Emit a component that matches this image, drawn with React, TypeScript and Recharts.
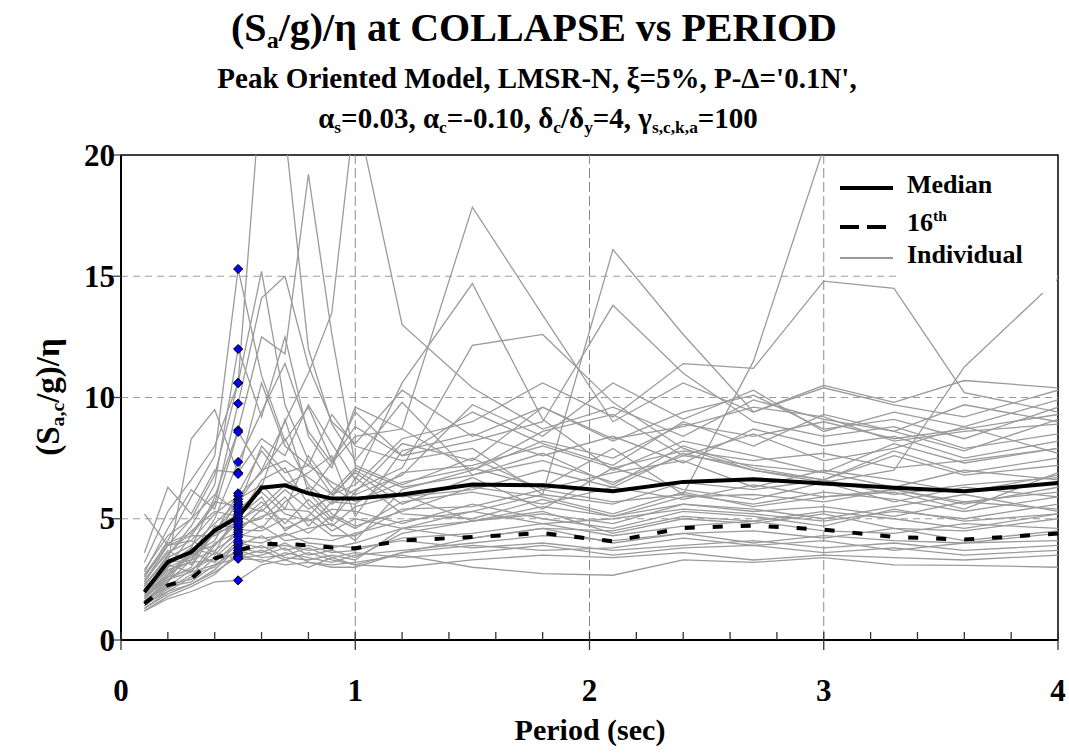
import React from "react"
import { ComposedChart, Legend, Line, ReferenceArea, ReferenceLine, Scatter, XAxis, YAxis } from "recharts"

const FONT = '"Liberation Serif", "Times New Roman", Times, serif'

const PERIODS = [0.1, 0.2, 0.3, 0.4, 0.5, 0.6, 0.7, 0.8, 0.9, 1.0, 1.2, 1.5, 1.8, 2.1, 2.4, 2.7, 3.0, 3.3, 3.6, 4.0]
const X_TICKS = [0, 0.2, 0.4, 0.6, 0.8, 1, 1.2, 1.4, 1.6, 1.8, 2, 2.2, 2.4, 2.6, 2.8, 3, 3.2, 3.4, 3.6, 3.8, 4]
const Y_TICKS = [0, 5, 10, 15, 20]
const X_GRID = [1, 2, 3]
const Y_GRID = [5, 10, 15]
const MARKED_PERIOD = 0.5

const MEDIAN = [1.98, 3.22, 3.63, 4.52, 5.07, 6.28, 6.38, 6.05, 5.83, 5.83, 6.0, 6.41, 6.38, 6.13, 6.52, 6.63, 6.45, 6.28, 6.13, 6.47]
const P16 = [1.5, 2.26, 2.53, 3.36, 3.7, 3.95, 3.97, 3.9, 3.81, 3.78, 4.1, 4.25, 4.41, 4.07, 4.62, 4.72, 4.55, 4.25, 4.14, 4.39]

// one row per ground motion record, values at PERIODS
const INDIVIDUAL: number[][] = [
  [2.6, 4.1, 5.9, 7.6, 15.3, 10.9, 8.2, 9.6, 7.4, 8.8, 7.6, 9.4, 8.1, 7.2, 9.0, 8.0, 9.3, 8.6, 7.8, 9.1],
  [2.2, 3.5, 4.7, 6.4, 12.0, 9.2, 12.5, 8.4, 7.1, 9.6, 8.7, 7.0, 8.6, 9.3, 7.6, 8.5, 7.4, 7.9, 8.8, 7.7],
  [3.2, 5.3, 6.6, 8.0, 10.6, 23.0, 21.0, 12.0, 8.9, 7.4, 9.8, 6.8, 7.7, 6.4, 8.0, 7.1, 6.6, 7.8, 6.9, 7.5],
  [2.4, 3.9, 5.0, 6.8, 10.6, 15.2, 9.7, 7.4, 6.0, 6.9, 5.6, 6.7, 5.4, 7.1, 6.2, 5.8, 6.5, 5.7, 6.3, 5.9],
  [1.9, 3.0, 4.3, 5.6, 9.75, 14.1, 15.0, 11.3, 9.0, 8.1, 10.3, 8.4, 9.6, 8.2, 9.4, 10.1, 8.7, 9.1, 8.3, 9.6],
  [2.1, 3.1, 3.8, 5.9, 8.65, 12.5, 11.8, 19.2, 12.6, 7.2, 6.4, 7.5, 6.2, 6.9, 7.4, 6.3, 7.0, 6.6, 6.1, 6.8],
  [2.8, 4.6, 6.2, 5.4, 8.58, 7.0, 9.0, 11.0, 13.5, 22.0, 13.0, 10.4, 8.7, 9.6, 8.4, 9.9, 9.1, 8.6, 9.7, 9.0],
  [1.7, 2.6, 3.5, 5.0, 7.34, 9.4, 11.4, 8.6, 7.3, 8.4, 8.7, 17.85, 13.4, 9.0, 10.6, 9.4, 10.4, 9.7, 9.2, 10.3],
  [3.6, 6.3, 5.2, 7.0, 6.9, 8.3, 7.6, 9.7, 8.1, 6.6, 10.6, 14.7, 9.1, 7.0, 8.2, 7.6, 6.9, 8.1, 7.3, 7.9],
  [2.0, 3.2, 8.3, 9.5, 6.85, 10.6, 8.0, 7.2, 9.3, 8.0, 7.4, 7.9, 6.0, 16.1, 12.6, 9.4, 10.5, 9.8, 10.7, 10.4],
  [1.5, 2.4, 3.3, 4.4, 6.05, 7.8, 6.6, 6.0, 7.3, 9.4, 7.6, 8.2, 9.0, 13.8, 11.0, 9.0, 8.4, 8.8, 7.9, 8.5],
  [2.5, 3.6, 4.1, 5.2, 5.95, 6.9, 8.3, 6.4, 5.6, 6.2, 7.1, 12.15, 12.6, 9.8, 7.9, 7.0, 6.6, 7.6, 6.8, 7.2],
  [1.8, 2.8, 3.5, 4.1, 5.8, 6.4, 5.4, 7.6, 6.3, 5.7, 6.5, 7.1, 6.3, 7.9, 6.0, 11.5, 20.3, 30.0, 26.0, 24.0],
  [2.3, 3.4, 3.9, 4.8, 5.7, 7.0, 7.4, 6.7, 6.0, 6.4, 8.3, 9.0, 10.6, 9.2, 11.4, 11.2, 14.8, 14.5, 10.2, 9.4],
  [1.6, 2.5, 3.0, 4.5, 5.6, 5.3, 6.2, 5.4, 5.9, 7.0, 5.9, 6.2, 7.0, 6.3, 7.7, 7.0, 6.5, 7.0, 11.26, 14.9],
  [2.7, 4.0, 4.4, 5.7, 5.5, 8.0, 6.9, 7.2, 6.5, 6.0, 6.8, 9.7, 8.4, 10.6, 9.1, 10.3, 8.6, 9.4, 8.8, 9.9],
  [1.4, 2.2, 2.9, 3.6, 5.4, 6.1, 5.2, 4.9, 5.4, 5.3, 4.8, 5.6, 5.0, 4.6, 5.3, 5.1, 4.7, 5.4, 4.9, 5.2],
  [2.9, 4.3, 5.0, 6.0, 5.3, 6.3, 9.1, 6.1, 5.0, 6.1, 8.1, 7.4, 9.6, 8.3, 8.8, 9.6, 9.2, 8.2, 8.6, 8.9],
  [1.9, 3.2, 3.3, 4.6, 5.2, 4.6, 5.7, 6.3, 5.2, 4.7, 5.3, 6.3, 5.9, 5.2, 6.1, 5.5, 5.9, 6.1, 5.4, 6.9],
  [2.2, 3.5, 4.5, 5.3, 5.1, 5.9, 4.5, 5.1, 6.1, 7.1, 6.3, 6.8, 7.4, 6.5, 7.6, 7.2, 6.9, 6.3, 7.0, 6.6],
  [1.7, 2.7, 3.6, 3.9, 5.0, 6.6, 7.1, 5.6, 4.7, 5.5, 6.0, 4.9, 5.3, 4.4, 5.0, 4.8, 5.2, 4.6, 4.5, 5.0],
  [2.6, 3.9, 4.3, 4.3, 4.9, 5.5, 6.4, 6.9, 7.6, 5.1, 7.8, 8.5, 7.6, 8.4, 7.3, 8.7, 8.0, 8.4, 7.5, 8.2],
  [1.3, 2.0, 2.6, 3.9, 4.85, 5.7, 4.8, 5.8, 4.9, 6.7, 5.2, 5.0, 5.8, 5.1, 5.6, 5.4, 5.0, 5.5, 6.0, 5.3],
  [2.0, 3.0, 3.4, 4.4, 4.75, 5.0, 5.9, 4.7, 5.7, 5.6, 6.9, 7.2, 8.0, 7.1, 7.8, 7.4, 7.7, 7.1, 7.4, 7.9],
  [2.4, 3.7, 3.1, 4.7, 4.65, 5.1, 5.4, 5.3, 4.5, 5.0, 4.6, 4.2, 4.6, 4.0, 4.4, 4.5, 4.2, 4.6, 4.1, 4.5],
  [1.6, 2.4, 3.8, 3.5, 4.55, 4.5, 5.0, 4.4, 5.1, 4.6, 5.7, 6.1, 5.6, 6.3, 5.8, 6.4, 5.9, 6.2, 5.7, 6.1],
  [2.1, 3.1, 2.8, 4.0, 4.45, 5.4, 4.6, 5.0, 4.3, 4.3, 5.4, 5.5, 6.2, 5.7, 6.0, 5.6, 6.1, 5.8, 5.3, 5.9],
  [1.8, 2.7, 3.3, 3.7, 4.35, 4.2, 4.3, 4.6, 4.8, 4.1, 6.2, 7.0, 8.2, 7.5, 8.9, 8.4, 9.0, 8.3, 8.7, 9.3],
  [1.5, 2.3, 2.5, 3.4, 4.25, 4.7, 4.1, 4.2, 4.1, 4.4, 4.9, 5.3, 4.8, 5.0, 5.4, 5.2, 4.9, 5.3, 5.0, 5.6],
  [2.3, 3.3, 3.6, 3.2, 4.1, 4.0, 4.4, 4.0, 3.9, 3.8, 4.1, 3.8, 4.0, 3.7, 3.9, 4.1, 3.8, 4.0, 3.7, 3.9],
  [1.4, 2.1, 2.7, 3.0, 4.0, 3.8, 3.9, 3.7, 3.8, 4.0, 4.6, 5.3, 6.0, 5.6, 6.5, 6.2, 6.6, 6.0, 6.4, 6.7],
  [1.9, 2.9, 3.2, 3.3, 3.9, 4.3, 3.7, 3.9, 3.6, 3.7, 4.2, 4.4, 4.8, 4.3, 4.7, 4.9, 4.5, 4.4, 4.8, 4.6],
  [1.3, 1.9, 2.3, 2.9, 3.8, 3.6, 4.0, 3.5, 3.7, 3.4, 4.4, 4.9, 5.5, 5.1, 5.9, 6.0, 5.7, 6.2, 5.6, 6.3],
  [1.6, 2.2, 2.4, 3.1, 3.7, 3.4, 3.5, 3.8, 3.4, 3.6, 3.4, 3.6, 3.9, 3.5, 3.8, 3.9, 3.6, 3.8, 3.5, 3.7],
  [1.2, 1.8, 2.2, 2.7, 3.6, 3.9, 3.4, 3.3, 3.5, 3.3, 4.6, 4.9, 5.2, 4.8, 5.6, 5.3, 5.5, 5.1, 5.7, 5.4],
  [2.0, 2.6, 2.9, 3.4, 3.55, 3.2, 3.6, 3.4, 3.2, 3.5, 3.7, 4.0, 4.3, 4.1, 4.4, 4.0, 4.3, 4.1, 4.0, 4.4],
  [1.5, 2.0, 2.3, 2.8, 3.45, 3.7, 3.3, 3.6, 3.3, 3.1, 3.6, 3.9, 3.7, 3.8, 4.2, 3.9, 4.1, 3.7, 4.0, 4.1],
  [1.8, 2.5, 2.8, 3.1, 3.38, 3.5, 3.8, 3.2, 3.1, 3.2, 3.5, 3.0, 2.74, 2.67, 3.3, 3.2, 3.4, 3.1, 3.08, 3.0],
  [5.2, 3.9, 4.1, 3.6, 3.35, 3.3, 3.1, 3.2, 3.0, 3.0, 3.6, 4.2, 4.6, 4.5, 5.1, 4.9, 5.3, 5.0, 4.6, 5.2],
  [1.2, 1.7, 2.0, 2.4, 2.46, 3.1, 3.3, 3.0, 3.4, 3.1, 3.0, 3.3, 3.5, 3.4, 3.6, 3.3, 3.5, 3.4, 3.3, 3.5],
]

const LEGEND_ITEMS = ["Median", "16", "Individual"]

const rows = PERIODS.map((T, i) => {
  const row: Record<string, number> = { T, median: MEDIAN[i], p16: P16[i] }
  INDIVIDUAL.forEach((r, k) => {
    row[`r${k}`] = r[i]
  })
  return row
})

const markedIdx = PERIODS.indexOf(MARKED_PERIOD)
const diamonds = INDIVIDUAL.map((r) => ({ T: MARKED_PERIOD, v: r[markedIdx] }))

const sub: React.CSSProperties = { fontSize: "0.6em", verticalAlign: "-0.3em", lineHeight: 0 }
const sup: React.CSSProperties = { fontSize: "0.6em", verticalAlign: "0.65em", lineHeight: 0 }

function Text({ x, y, size, rotate, children }: { x: number; y: number; size: number; rotate?: number; children: React.ReactNode }) {
  return (
    <div
      style={{
        position: "absolute",
        left: x,
        top: y,
        fontSize: size,
        lineHeight: 1,
        whiteSpace: "nowrap",
        transform: `translate(-50%, -50%)${rotate ? ` rotate(${rotate}deg)` : ""}`,
      }}
    >
      {children}
    </div>
  )
}

function XTick(props: any) {
  const { x, y, payload } = props
  const v = payload.value as number
  const major = Math.abs(v - Math.round(v)) < 1e-6
  return (
    <g>
      <line x1={x} x2={x} y1={y - 8} y2={major ? y + 10 : y} stroke="#333" strokeWidth={1.3} />
      {major && (
        <text x={x} y={y + 50} textAnchor="middle" dominantBaseline="central" fontFamily={FONT} fontWeight="bold" fontSize={31} fill="#000">
          {v}
        </text>
      )}
    </g>
  )
}

function YTick(props: any) {
  const { x, y, payload } = props
  return (
    <g>
      <line x1={x - 11} x2={x} y1={y} y2={y} stroke="#444" strokeWidth={1.3} />
      <text x={x - 6} y={y} textAnchor="end" dominantBaseline="central" fontFamily={FONT} fontWeight="bold" fontSize={31} fill="#000">
        {payload.value}
      </text>
    </g>
  )
}

function Diamond(props: any) {
  const { cx, cy } = props
  const r = 4.6
  return <polygon points={`${cx},${cy - r} ${cx + r},${cy} ${cx},${cy + r} ${cx - r},${cy}`} fill="#0000ff" stroke="#000" strokeWidth={1} />
}

function LegendBox() {
  return (
    <div style={{ position: "relative", width: 220, height: 136, fontFamily: FONT, fontWeight: "bold", fontSize: 26, color: "#000" }}>
      <div style={{ position: "absolute", left: 60, top: 0, width: 158, height: 136, background: "#fff" }} />
      <svg width={60} height={136} style={{ position: "absolute", left: 0, top: 0 }}>
        <line x1={2} x2={55} y1={31} y2={31} stroke="#000" strokeWidth={4} />
        <line x1={2} x2={55} y1={70} y2={70} stroke="#000" strokeWidth={4} strokeDasharray="19 8" />
        <line x1={2} x2={55} y1={101} y2={101} stroke="#777" strokeWidth={1.3} />
      </svg>
      <div style={{ position: "absolute", left: 69, top: 28, transform: "translateY(-50%)", lineHeight: 1 }}>{LEGEND_ITEMS[0]}</div>
      <div style={{ position: "absolute", left: 69, top: 66, transform: "translateY(-50%)", lineHeight: 1 }}>
        {LEGEND_ITEMS[1]}
        <span style={sup}>th</span>
      </div>
      <div style={{ position: "absolute", left: 69, top: 98, transform: "translateY(-50%)", lineHeight: 1 }}>{LEGEND_ITEMS[2]}</div>
    </div>
  )
}

export default function App() {
  return (
    <div
      style={{
        position: "absolute",
        left: 0,
        top: 0,
        width: 1069,
        height: 754,
        background: "#fff",
        fontFamily: FONT,
        fontWeight: "bold",
        color: "#000",
      }}
    >
      <ComposedChart width={1069} height={754} data={rows} margin={{ top: 155, right: 11, bottom: 64, left: 61 }}>
        <XAxis
          type="number"
          dataKey="T"
          domain={[0, 4]}
          ticks={X_TICKS}
          interval={0}
          height={50}
          tickSize={0}
          tickMargin={0}
          tickLine={false}
          tick={<XTick />}
          axisLine={{ stroke: "#000", strokeWidth: 2 }}
          allowDataOverflow
        />
        <YAxis
          type="number"
          domain={[0, 20]}
          ticks={Y_TICKS}
          interval={0}
          width={60}
          tickSize={0}
          tickMargin={0}
          tickLine={false}
          tick={<YTick />}
          axisLine={{ stroke: "#000", strokeWidth: 2 }}
          allowDataOverflow
        />
        {Y_GRID.map((v) => (
          <ReferenceLine key={`h${v}`} y={v} stroke="#9c9c9c" strokeWidth={1.2} strokeDasharray="7 5" />
        ))}
        {X_GRID.map((v) => (
          <ReferenceLine key={`v${v}`} x={v} stroke="#8a8a8a" strokeWidth={1} strokeDasharray="10 4" />
        ))}
        {INDIVIDUAL.map((_, k) => (
          <Line
            key={k}
            type="linear"
            dataKey={`r${k}`}
            stroke="#9b9b9b"
            strokeWidth={1.3}
            dot={false}
            activeDot={false}
            isAnimationActive={false}
            legendType="none"
          />
        ))}
        <Line type="linear" dataKey="p16" stroke="#000" strokeWidth={4} strokeDasharray="10 18" dot={false} activeDot={false} isAnimationActive={false} />
        <Line type="linear" dataKey="median" stroke="#000" strokeWidth={4} dot={false} activeDot={false} isAnimationActive={false} />
        <Scatter data={diamonds} dataKey="v" shape={<Diamond />} isAnimationActive={false} legendType="none" />
        <ReferenceArea x1={0} x2={4} y1={0} y2={20} fill="none" fillOpacity={0} stroke="#000" strokeWidth={1.5} />
        <Legend
          layout="vertical"
          align="center"
          verticalAlign="middle"
          content={<LegendBox />}
          wrapperStyle={{ left: 838, top: 157, width: 220, height: 136 }}
        />
      </ComposedChart>

      <Text x={534} y={28} size={40}>
        (S<span style={sub}>a</span>/g)/η at COLLAPSE vs PERIOD
      </Text>
      <Text x={537} y={78} size={29}>
        Peak Oriented Model, LMSR-N, ξ=5%, P-Δ='0.1N',
      </Text>
      <Text x={538} y={118} size={29}>
        α<span style={sub}>s</span>=0.03, α<span style={sub}>c</span>=-0.10, δ<span style={sub}>c</span>/δ<span style={sub}>y</span>=4, γ
        <span style={sub}>s,c,k,a</span>=100
      </Text>
      <Text x={48} y={397} size={33} rotate={-90}>
        (S<span style={sub}>a,c</span>/g)/η
      </Text>
      <Text x={590} y={730} size={30}>
        Period (sec)
      </Text>
    </div>
  )
}
